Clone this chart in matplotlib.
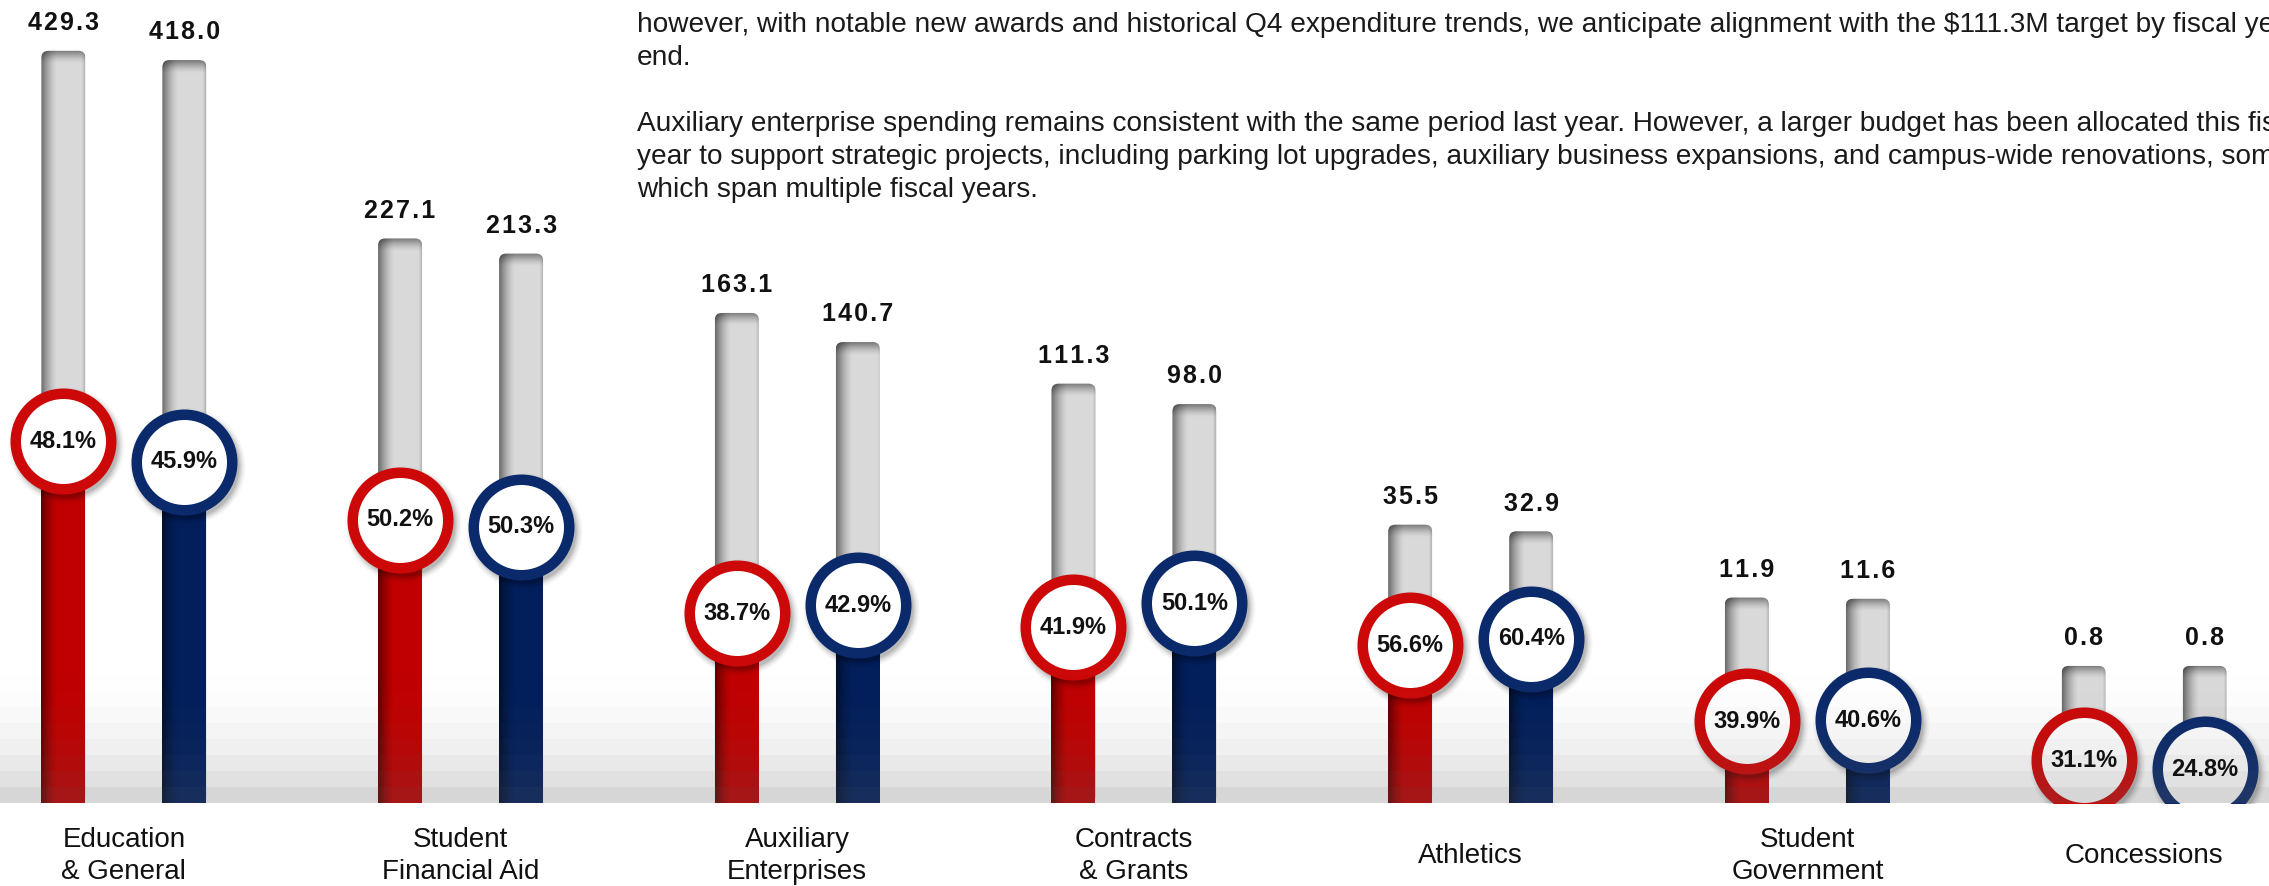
import numpy as np
import matplotlib.pyplot as plt
from matplotlib.patches import FancyBboxPatch, Rectangle
from matplotlib import transforms

plt.rcParams['font.family'] = ['Liberation Sans', 'DejaVu Sans']

# ---- data ----
categories = ['Education\n& General', 'Student\nFinancial Aid', 'Auxiliary\nEnterprises',
              'Contracts\n& Grants', 'Athletics', 'Student\nGovernment', 'Concessions']
budget_red = [429.3, 227.1, 163.1, 111.3, 35.5, 11.9, 0.8]
budget_blue = [418.0, 213.3, 140.7, 98.0, 32.9, 11.6, 0.8]
pct_red = [48.1, 50.2, 38.7, 41.9, 56.6, 39.9, 31.1]
pct_blue = [45.9, 50.3, 42.9, 50.1, 60.4, 40.6, 24.8]

notes = [
    "however, with notable new awards and historical Q4 expenditure trends, we anticipate alignment with the $111.3M target by fiscal year",
    "end.",
    "",
    "Auxiliary enterprise spending remains consistent with the same period last year. However, a larger budget has been allocated this fiscal",
    "year to support strategic projects, including parking lot upgrades, auxiliary business expansions, and campus-wide renovations, some of",
    "which span multiple fiscal years.",
]

RED_BAR, RED_RING = '#c00000', '#cc0808'
BLUE_BAR, BLUE_RING = '#021f5c', '#0b2a6b'
GREY_BAR = '#d9d9d9'

# bars use a compressed power scale with a floor so the small budgets stay visible
POWER = 0.55
FLOOR = 5.17


def bar_height(v):
    return np.asarray(v, dtype=float) ** POWER + FLOOR


W, H, DPI = 2269, 886, 100
BASE = 83  # px from the bottom of the figure to the baseline
fig = plt.figure(figsize=(W / DPI, H / DPI), dpi=DPI)
ax = fig.add_axes([0, BASE / H, 1, (H - BASE) / H])
XLIM = (-0.368, 6.371)
YLIM = (0, 35.47)
ax.set_xlim(*XLIM)
ax.set_ylim(*YLIM)
ax.set_autoscale_on(False)
ax.axis('off')

px_x = W / (XLIM[1] - XLIM[0])          # px per x unit
px_y = (H - BASE) / (YLIM[1] - YLIM[0])  # px per y unit
bw = 44 / px_x
off = 60.5 / px_x


def ramp(n, a0):
    return a0 * np.clip(1 - np.arange(n) / n, 0, 1) ** 1.5


def shade_image(w_px, h_px, left, top, right):
    lx = np.zeros(w_px)
    lx[:16] = ramp(16, left)
    rx = np.zeros(w_px)
    rx[-3:] = [right * 0.3, right * 0.6, right]
    ty = np.zeros(h_px)
    n = min(13, h_px)
    ty[:n] = ramp(n, top)
    a = 1 - (1 - lx[None, :]) * (1 - rx[None, :]) * (1 - ty[:, None])
    img = np.zeros((h_px, w_px, 4))
    img[..., 3] = a
    return img


def spaced(s):
    # a little extra tracking, like the original labels
    return '\u200a'.join(s)


x = np.arange(len(categories))
shadow_tr = transforms.offset_copy(ax.transData, fig, x=3, y=-4, units='dots')

for xs, vals, pcts, bar_c, ring_c in [(x - off, budget_red, pct_red, RED_BAR, RED_RING),
                                      (x + off, budget_blue, pct_blue, BLUE_BAR, BLUE_RING)]:
    hs = bar_height(vals)
    fills = hs * np.asarray(pcts) / 100
    for xi, h, f, v, p in zip(xs, hs, fills, vals, pcts):
        # grey track with rounded top
        track = FancyBboxPatch((xi - bw / 2, 0), bw, h,
                               boxstyle=f"round,pad=0,rounding_size={7 / px_x}",
                               mutation_aspect=px_x / px_y,
                               facecolor=GREY_BAR, edgecolor='none', zorder=2)
        ax.add_patch(track)
        im = ax.imshow(shade_image(44, int(h * px_y), 0.5, 0.45, 0.15),
                       extent=(xi - bw / 2, xi + bw / 2, 0, h), aspect='auto',
                       interpolation='bilinear', zorder=2.1)
        im.set_clip_path(track)
        # coloured fill
        ax.add_patch(Rectangle((xi - bw / 2, 0), bw, f, facecolor=bar_c,
                               edgecolor='none', zorder=3))
        ax.imshow(shade_image(44, max(int(f * px_y), 2), 0.5, 0.0, 0.0),
                  extent=(xi - bw / 2, xi + bw / 2, 0, f), aspect='auto',
                  interpolation='bilinear', zorder=3.1)
        # soft shadow under the ring
        for k, a in enumerate([0.10, 0.08, 0.06, 0.04, 0.03]):
            d = (104 + 3 * k) * 72 / DPI
            ax.scatter([xi], [f], s=d ** 2, color='black', alpha=a, linewidths=0,
                       transform=shadow_tr, zorder=4)
        # ring
        ax.scatter([xi], [f], s=(95.5 * 72 / DPI) ** 2, facecolor='white',
                   edgecolor=ring_c, linewidths=10.5 * 72 / DPI, zorder=5)
        ax.text(xi, f, f'{p:.1f}%', ha='center', va='center', fontsize=17,
                fontweight='bold', color='#111111', zorder=8)
        ax.annotate(spaced(f'{v:.1f}'), (xi, h), xytext=(0, 20), textcoords='offset points',
                    ha='center', va='center', fontsize=18, fontweight='bold',
                    color='#111111', zorder=8)

# floor gradient over the lower part of the bars
floor_vals = np.array([254, 252, 249, 245, 240, 233, 225, 214])
floor_alpha = (255 - floor_vals) / 165
floor = np.zeros((len(floor_vals), 1, 4))
floor[..., 0:3] = 90 / 255
floor[:, 0, 3] = floor_alpha
ax.imshow(floor, extent=(XLIM[0], XLIM[1], 0, 128 / px_y), aspect='auto',
          interpolation='nearest', zorder=6)

for xi, lab in zip(x, categories):
    ax.text(xi, -53 / px_y, lab, ha='center', va='center', fontsize=20,
            linespacing=1.3, color='#111111', clip_on=False)

baselines = [32, 65, 98, 131, 164, 197]
for line, yb in zip(notes, baselines):
    if line:
        fig.text(637 / W, 1 - yb / H, line, ha='left', va='baseline',
                 fontsize=20.2, color='#1a1a1a')

fig.savefig('out.png', dpi=DPI)
